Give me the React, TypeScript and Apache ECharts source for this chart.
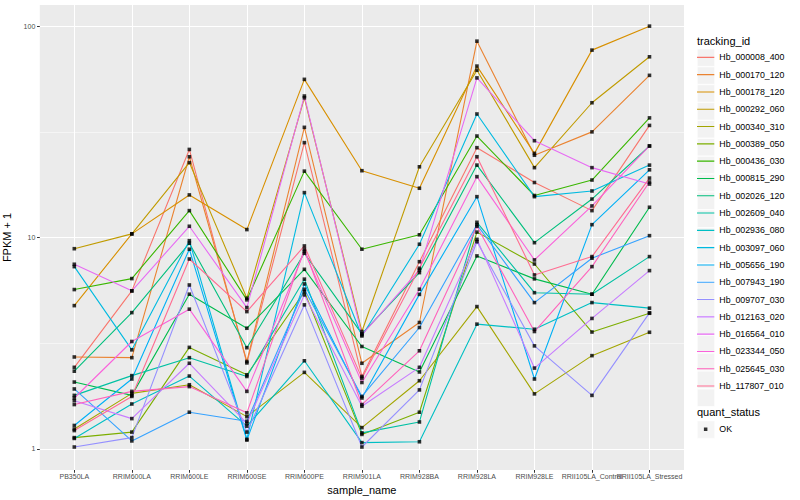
import React, { useEffect, useRef } from "react";
import * as echarts from "echarts";

const categories = [
  "PB350LA", "RRIM600LA", "RRIM600LE", "RRIM600SE", "RRIM600PE", "RRIM901LA",
  "RRIM928BA", "RRIM928LA", "RRIM928LE", "RRII105LA_Control", "RRII105LA_Stressed",
];

const trackingIds = [
  "Hb_000008_400", "Hb_000170_120", "Hb_000178_120", "Hb_000292_060", "Hb_000340_310",
  "Hb_000389_050", "Hb_000436_030", "Hb_000815_290", "Hb_002026_120", "Hb_002609_040",
  "Hb_002936_080", "Hb_003097_060", "Hb_005656_190", "Hb_007943_190", "Hb_009707_030",
  "Hb_012163_020", "Hb_016564_010", "Hb_023344_050", "Hb_025645_030", "Hb_117807_010",
];

const hueColors = [
  "#F8766D", "#EA8331", "#D89000", "#C09B00", "#A3A500", "#7CAE00", "#39B600", "#00BB4E",
  "#00BF7D", "#00C1A3", "#00BFC4", "#00BAE0", "#00B0F6", "#35A2FF", "#9590FF", "#C77CFF",
  "#E76BF3", "#FA62DB", "#FF62BC", "#FF6C91",
];

// FPKM + 1 per sample, in category order
const hb000008_400 = [2.43, 5.59, 26.1, 2.55, 28.1, 2.2, 7.68, 26.6, 18.2, 13.4, 33.9];
const hb000170_120 = [2.72, 2.7, 24.1, 2.59, 33.2, 2.54, 3.96, 84.9, 24.5, 31.6, 58.5];
const hb000178_120 = [4.76, 10.4, 15.9, 10.9, 56.0, 20.7, 17.1, 64.7, 25.0, 77.0, 100];
const hb000292_060 = [8.85, 10.4, 22.6, 5.16, 45.8, 3.59, 21.6, 61.9, 21.4, 43.4, 71.6];
const hb000340_310 = [1.24, 1.83, 2.01, 1.42, 2.3, 1.26, 2.1, 4.71, 1.82, 2.76, 3.56];
const hb000389_050 = [1.13, 1.2, 3.02, 2.24, 5.54, 1.17, 1.49, 10.6, 7.49, 3.57, 4.38];
const hb000436_030 = [5.67, 6.39, 13.4, 5.07, 20.6, 8.8, 10.3, 30.2, 15.8, 18.7, 36.8];
const hb000815_290 = [2.07, 1.79, 5.39, 3.72, 7.07, 3.05, 2.31, 8.18, 6.37, 5.39, 13.9];
const hb002026_120 = [2.33, 4.41, 9.39, 3.01, 8.42, 3.5, 6.82, 22.0, 9.45, 15.2, 27.1];
const hb002609_040 = [1.79, 2.22, 2.7, 2.2, 6.35, 1.19, 1.34, 11.8, 5.48, 5.39, 8.12];
const hb002936_080 = [1.12, 1.63, 2.21, 1.28, 2.61, 1.07, 1.08, 3.89, 3.68, 4.92, 4.63];
const hb003097_060 = [7.28, 2.94, 9.66, 1.11, 16.3, 3.42, 9.29, 38.4, 15.6, 16.6, 22.0];
const hb005656_190 = [1.29, 2.14, 8.8, 1.1, 6.03, 1.74, 5.38, 15.6, 2.14, 11.5, 20.9];
const hb007943_190 = [1.92, 1.09, 1.49, 1.35, 5.69, 1.77, 3.75, 11.5, 4.92, 7.98, 10.2];
const hb009707_030 = [1.02, 1.13, 5.96, 1.2, 4.8, 1.02, 1.9, 9.55, 3.07, 1.79, 4.4];
const hb012163_020 = [1.69, 1.39, 2.54, 1.32, 5.35, 1.59, 2.43, 9.8, 2.41, 4.14, 6.97];
const hb016564_010 = [7.47, 5.59, 11.3, 4.66, 46.7, 3.46, 7.02, 56.9, 28.7, 21.4, 17.9];
const hb023344_050 = [1.74, 3.22, 4.58, 1.87, 8.59, 2.06, 5.69, 19.4, 7.83, 14.1, 27.1];
const hb025645_030 = [1.62, 1.87, 1.97, 1.48, 8.8, 1.62, 2.91, 11.3, 3.59, 7.28, 18.3];
const hb117807_010 = [1.22, 1.77, 7.91, 4.46, 9.12, 2.16, 7.15, 24.1, 6.65, 8.12, 19.1];

const seriesValues = [
  hb000008_400, hb000170_120, hb000178_120, hb000292_060, hb000340_310, hb000389_050,
  hb000436_030, hb000815_290, hb002026_120, hb002609_040, hb002936_080, hb003097_060,
  hb005656_190, hb007943_190, hb009707_030, hb012163_020, hb016564_010, hb023344_050,
  hb025645_030, hb117807_010,
];

const yMajorTicks = [1, 10, 100];
const yMinorTicks = [3.162, 31.62];
const yLimits = [0.794, 125.9];
const quantStatus = ["OK"];

const FONT = "'Liberation Sans', Arial, Helvetica, sans-serif";
const LINE_ICON = "path://M0 0L0.01 0M0 8.1L17.3 8.1L17.3 9.2L0 9.2ZM17.3 17.3L17.29 17.3";
const SQUARE_ICON = "path://M0 0L0.01 0M6.9 6.9L10.4 6.9L10.4 10.4L6.9 10.4ZM17.3 17.3L17.29 17.3";

export default function App() {
  const ref = useRef<HTMLDivElement>(null);

  useEffect(() => {
    if (!ref.current) return;
    const chart = echarts.init(ref.current, null, { renderer: "svg" });
    const lg = (v: number) => Math.log10(v);
    const catIdx = categories.map((_, i) => i);
    const evenIdx = catIdx.filter((i) => i % 2 === 0);
    const oddIdx = catIdx.filter((i) => i % 2 === 1);

    const lineSeries = trackingIds.map((id, i) => ({
      type: "line",
      name: id,
      data: seriesValues[i].map((v, j) => [j, lg(v)]),
      showSymbol: false,
      symbol: "none",
      color: hueColors[i],
      itemStyle: { color: hueColors[i] },
      lineStyle: { color: hueColors[i], width: 1.1 },
      emphasis: { disabled: true },
      silent: true,
      z: 2,
    }));

    const points: number[][] = [];
    seriesValues.forEach((arr) => arr.forEach((v, j) => points.push([j, lg(v)])));

    const legendCommon = {
      orient: "vertical",
      left: 697,
      padding: 0,
      itemGap: 0,
      itemWidth: 17.3,
      itemHeight: 17.3,
      selectedMode: false,
      textStyle: { fontSize: 8.8, fontFamily: FONT, color: "#000" },
    };

    const xLabelStyle = {
      formatter: (v: number) => categories[Math.round(v)] ?? "",
      color: "#4D4D4D", fontSize: 7, fontFamily: FONT, margin: 3,
      hideOverlap: false, showMinLabel: true, showMaxLabel: true,
    };

    const option = {
      animation: false,
      backgroundColor: "#FFFFFF",
      title: [
        { text: "tracking_id", left: 697, top: 35, padding: 0, textStyle: { fontSize: 11, fontWeight: "normal", color: "#000", fontFamily: FONT } },
        { text: "quant_status", left: 697, top: 406, padding: 0, textStyle: { fontSize: 11, fontWeight: "normal", color: "#000", fontFamily: FONT } },
      ],
      legend: [
        { ...legendCommon, top: 48.7, data: trackingIds, icon: "rect", z: 4, formatter: () => "",
          itemStyle: { color: "#F2F2F2", borderColor: "#FFFFFF", borderWidth: 0.6 } },
        { ...legendCommon, top: 48.7, data: trackingIds, icon: LINE_ICON, z: 5,
          itemStyle: { borderWidth: 0 } },
        { ...legendCommon, top: 420.7, data: quantStatus, icon: "rect", z: 4, formatter: () => "",
          itemStyle: { color: "#F2F2F2", borderColor: "#FFFFFF", borderWidth: 0.6 } },
        { ...legendCommon, top: 420.7, data: quantStatus, icon: SQUARE_ICON, z: 5,
          itemStyle: { borderWidth: 0 } },
      ],
      grid: {
        left: 39.8, right: 116, top: 5, bottom: 30,
        show: true, backgroundColor: "#EBEBEB", borderWidth: 0,
        containLabel: false, outerBoundsMode: "none",
      },
      xAxis: [
        {
          type: "value",
          position: "bottom",
          min: -0.6,
          max: categories.length - 0.4,
          axisLine: { show: false, onZero: false },
          axisTick: { show: true, length: 2.75, lineStyle: { color: "#333333", width: 1 }, customValues: catIdx },
          axisLabel: { ...xLabelStyle, customValues: evenIdx },
          splitLine: { show: true, lineStyle: { color: "#FFFFFF", width: 1.07 } },
          name: "sample_name",
          nameLocation: "middle",
          nameGap: 12.5,
          nameTextStyle: { fontSize: 11, color: "#000", fontFamily: FONT },
        },
        {
          type: "value",
          position: "bottom",
          offset: 0,
          min: -0.6,
          max: categories.length - 0.4,
          axisLine: { show: false, onZero: false },
          axisTick: { show: false, customValues: oddIdx },
          axisLabel: { ...xLabelStyle, customValues: oddIdx },
          splitLine: { show: false },
        },
      ],
      yAxis: [
        {
          type: "value",
          min: lg(yLimits[0]),
          max: lg(yLimits[1]),
          axisLine: { show: false, onZero: false },
          axisTick: { show: true, length: 2.75, lineStyle: { color: "#333333", width: 1 }, customValues: yMajorTicks.map(lg) },
          axisLabel: {
            customValues: yMajorTicks.map(lg),
            formatter: (v: number) => String(Math.round(Math.pow(10, v))),
            color: "#4D4D4D", fontSize: 7, fontFamily: FONT, margin: 4.5,
            showMinLabel: true, showMaxLabel: true,
          },
          splitLine: { show: true, lineStyle: { color: "#FFFFFF", width: 1.07 } },
          name: "FPKM + 1",
          nameLocation: "middle",
          nameRotate: 90,
          nameGap: 16,
          nameTextStyle: { fontSize: 11, color: "#000", fontFamily: FONT },
        },
        {
          type: "value",
          position: "left",
          min: lg(yLimits[0]),
          max: lg(yLimits[1]),
          axisLine: { show: false, onZero: false },
          axisTick: { show: false, customValues: yMinorTicks.map(lg) },
          axisLabel: { show: false, customValues: yMinorTicks.map(lg) },
          splitLine: { show: true, lineStyle: { color: "#FFFFFF", width: 0.53 } },
        },
      ],
      series: [
        ...lineSeries,
        {
          type: "scatter",
          name: quantStatus[0],
          data: points,
          symbol: "rect",
          symbolSize: 3.6,
          itemStyle: { color: "#000000" },
          emphasis: { disabled: true },
          silent: true,
          z: 3,
        },
      ],
    };

    chart.setOption(option as any);
    return () => chart.dispose();
  }, []);

  return (
    <div
      ref={ref}
      style={{ position: "absolute", left: 0, top: 0, width: 800, height: 500, background: "#fff" }}
    />
  );
}
